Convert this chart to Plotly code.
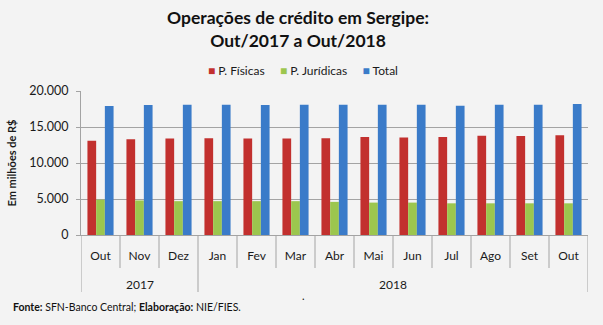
import plotly.graph_objects as go

# Monthly credit operations in Sergipe (R$ millions)
years = ["2017"] * 3 + ["2018"] * 10
months = ["Out", "Nov", "Dez", "Jan", "Fev", "Mar", "Abr", "Mai", "Jun", "Jul", "Ago", "Set", "Out"]
pessoas_fisicas = [13100, 13300, 13400, 13450, 13400, 13400, 13450, 13600, 13550, 13600, 13800, 13750, 13850]
pessoas_juridicas = [4900, 4800, 4700, 4700, 4700, 4700, 4600, 4500, 4500, 4400, 4400, 4400, 4400]
total = [17900, 18050, 18100, 18100, 18050, 18100, 18100, 18100, 18100, 17950, 18100, 18100, 18200]
y_ticks = [0, 5000, 10000, 15000, 20000]
y_tick_labels = ["0", "5.000", "10.000", "15.000", "20.000"]

FONT = "Lato, 'Open Sans', sans-serif"
BG = "#F3F3F3"
AXIS = "#A3A3A3"
TEXT = "#1A1A1A"

# plot area: 510 x 144 px
PLOT_H = 144.0

def py(pixels_below_axis):
    """Paper y for a point the given number of pixels below the x axis."""
    return -pixels_below_axis / PLOT_H

positions = list(range(len(months)))

series = [
    ("P. Físicas", pessoas_fisicas, "#C2302E"),
    ("P. Jurídicas", pessoas_juridicas, "#9CC64E"),
    ("Total", total, "#3A7BC9"),
]

fig = go.Figure()
for name, vals, color in series:
    fig.add_trace(go.Bar(
        x=positions, y=vals, name=name,
        marker=dict(color=color, line=dict(width=0)),
        showlegend=False,
    ))

fig.update_layout(
    width=603, height=325,
    paper_bgcolor=BG, plot_bgcolor=BG,
    margin=dict(l=78, r=15, t=91, b=90),
    barmode="group", bargap=0.33, bargroupgap=0,
    font=dict(family=FONT, size=12, color=TEXT),
)

fig.update_xaxes(
    range=[-0.5, len(months) - 0.5],
    tickvals=positions, ticktext=months,
    showline=True, linecolor=AXIS, linewidth=1,
    ticks="", ticklabelstandoff=10,
    tickfont=dict(size=12, color=TEXT), showgrid=False, zeroline=False,
)
fig.update_yaxes(
    range=[0, 20000], tickvals=y_ticks, ticktext=y_tick_labels,
    showgrid=True, gridcolor=AXIS, gridwidth=1,
    showline=True, linecolor=AXIS, linewidth=1,
    ticks="outside", ticklen=4, tickcolor=AXIS, ticklabelstandoff=5,
    tickfont=dict(size=12.5, color=TEXT), zeroline=False,
    title=dict(text="<b>Em milhões de R$</b>", font=dict(size=11, color=TEXT), standoff=10),
)

# Category dividers: short between months, long at year boundaries and ends
for b in range(len(months) + 1):
    is_year_edge = b == 0 or b == len(months) or years[b] != years[b - 1]
    fig.add_shape(
        type="line", xref="x", yref="paper",
        x0=b - 0.5, x1=b - 0.5, y0=0, y1=py(57 if is_year_edge else 33),
        line=dict(color=AXIS, width=1),
    )

# Year labels centred under their months
for yr in dict.fromkeys(years):
    idx = [i for i, v in enumerate(years) if v == yr]
    fig.add_annotation(
        text=yr, xref="x", yref="paper",
        x=(idx[0] + idx[-1]) / 2, y=py(49), yanchor="middle",
        showarrow=False, font=dict(size=12, color=TEXT),
    )

# Title
fig.add_annotation(
    text="<b>Operações de crédito em Sergipe:<br>Out/2017 a Out/2018</b>",
    xref="paper", yref="paper", x=(296 - 78) / 510, y=(235 - 29) / PLOT_H,
    xanchor="center", yanchor="middle", showarrow=False,
    font=dict(size=17.5, color="#111111"),
)

# Legend row
legend_html = "&nbsp;&nbsp;&nbsp;&nbsp;&nbsp;".join(
    f'<span style="color:{color}">■</span> {name}' for name, _, color in series
)
fig.add_annotation(
    text=legend_html, xref="paper", yref="paper",
    x=(301 - 78) / 510, y=(235 - 70) / PLOT_H,
    xanchor="center", yanchor="middle", showarrow=False,
    font=dict(size=12, color=TEXT),
)

# Source note
fig.add_annotation(
    text="<b>Fonte:</b> SFN-Banco Central; <b>Elaboração:</b> NIE/FIES.",
    xref="paper", yref="paper", x=-70 / 510, y=py(72),
    xanchor="left", yanchor="middle", showarrow=False,
    font=dict(size=10.5, color="#111111"),
)
fig.add_annotation(
    text=".", xref="paper", yref="paper", x=(302 - 78) / 510, y=py(60),
    xanchor="center", yanchor="middle",
    showarrow=False, font=dict(size=11, color="#111111"),
)

fig.write_html("out.html")
